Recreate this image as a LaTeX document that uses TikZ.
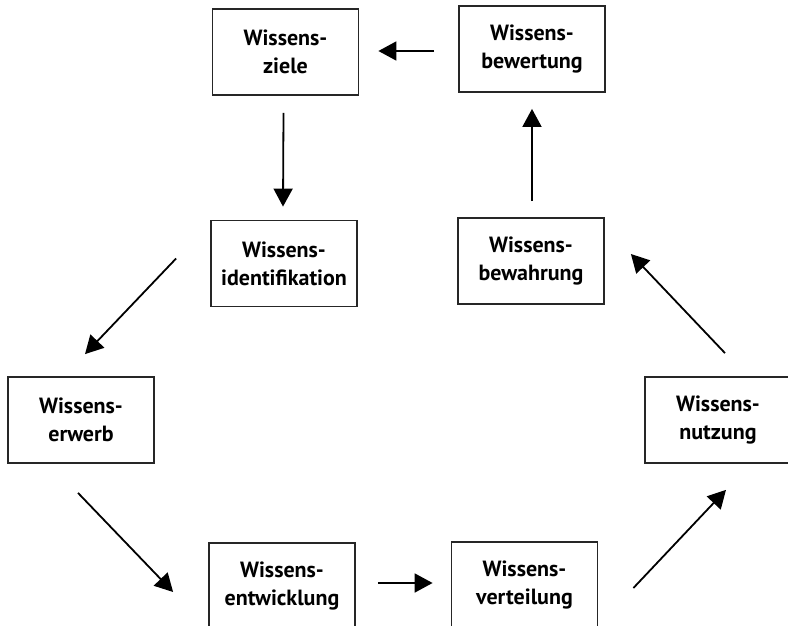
\documentclass[tikz,border=0pt]{standalone}
\usepackage{fontspec}
\setmainfont{PT Sans}
\usetikzlibrary{arrows.meta}

\tikzset{
  box/.style={draw=black!85, line width=1.8pt, minimum width=146pt, minimum height=86pt,
    align=center, inner sep=0pt, font=\bfseries\fontsize{22}{28}\selectfont},
  arr/.style={line width=1.8pt, -{Triangle[length=18pt,width=19pt]}}
}

\begin{document}
\begin{tikzpicture}[x=1pt,y=-1pt]
    \useasboundingbox (0,0) rectangle (788,626);
    % the eight building blocks
    \node[box] (ziele) at (285.5,52) {Wissens-\\ziele};
    \node[box] (bewertung) at (532,49) {Wissens-\\bewertung};
    \node[box] (ident) at (284,263.5) {Wissens-\\identifikation};
    \node[box] (bewahrung) at (531,261) {Wissens-\\bewahrung};
    \node[box] (erwerb) at (81,420) {Wissens-\\erwerb};
    \node[box] (nutzung) at (718,420) {Wissens-\\nutzung};
    \node[box] (entw) at (282,586) {Wissens-\\entwicklung};
    \node[box] (vert) at (524.5,585) {Wissens-\\verteilung};
    % the cycle
    \draw[arr] ([shift={(-24,2)}]bewertung.west) -- ([shift={(19,-1)}]ziele.east);
    \draw[arr] ([shift={(-2,17)}]ziele.south) -- ([shift={(-1,-13)}]ident.north);
    \draw[arr] ([shift={(-34,-5)}]ident.west) -- ([shift={(4,-22)}]erwerb.north);
    \draw[arr] ([shift={(-3,29)}]erwerb.south) -- ([shift={(-35,6)}]entw.west);
    \draw[arr] ([shift={(22,-3)}]entw.east) -- ([shift={(-18,-2)}]vert.west);
    \draw[arr] ([shift={(35,3)}]vert.east) -- ([shift={(8,26)}]nutzung.south);
    \draw[arr] ([shift={(7,-23)}]nutzung.north) -- ([shift={(26,-7)}]bewahrung.east);
    \draw[arr] ([shift={(1,-16)}]bewahrung.north) -- ([shift={(0,16)}]bewertung.south);
\end{tikzpicture}
\end{document}
